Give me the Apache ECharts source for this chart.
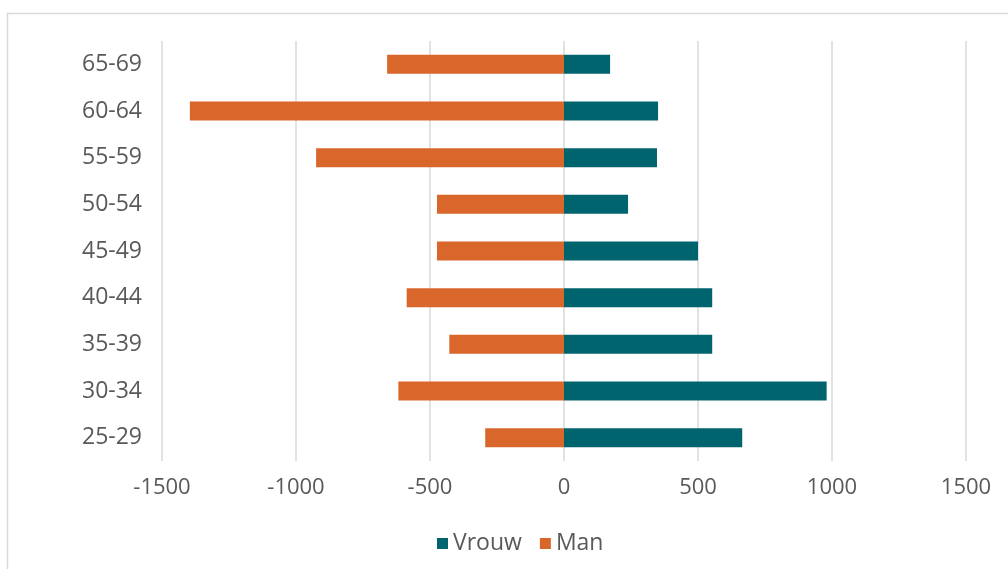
<!DOCTYPE html>
<html>
<head>
<meta charset="utf-8">
<script src="https://cdn.jsdelivr.net/npm/echarts@6/dist/echarts.min.js"></script>
<style>html,body{margin:0;padding:0;background:#fff;}#c{width:1008px;height:569px;}</style>
</head>
<body>
<div id="c"></div>
<script>
const categories = ['25-29','30-34','35-39','40-44','45-49','50-54','55-59','60-64','65-69'];
const vrouw = [665, 980, 553, 553, 500, 239, 347, 351, 172];
const man = [-294, -618, -428, -587, -474, -474, -925, -1396, -660];
const xTicks = { min: -1500, max: 1500, interval: 500 };

const chart = echarts.init(document.getElementById('c'));
const font = '"Open Sans", "Noto Sans", sans-serif';
chart.setOption({
  animation: false,
  backgroundColor: '#fff',
  graphic: [{
    type: 'rect', left: 5, top: 11, shape: { width: 1100, height: 620 },
    style: { fill: 'none', stroke: '#d9d9d9', lineWidth: 1.5 }, silent: true
  }],
  legend: {
    data: ['Vrouw', 'Man'],
    left: 432, top: 527,
    itemWidth: 11, itemHeight: 11, itemGap: 18,
    icon: 'rect',
    textStyle: { fontFamily: font, fontSize: 23, color: '#595959' }
  },
  grid: { left: 162, right: 42, top: 41, bottom: 108, containLabel: false },
  xAxis: {
    type: 'value', min: xTicks.min, max: xTicks.max, interval: xTicks.interval,
    axisLine: { show: false }, axisTick: { show: false },
    splitLine: { show: true, lineStyle: { color: '#d9d9d9', width: 1.5 } },
    axisLabel: { fontFamily: font, fontSize: 22, color: '#595959', margin: 16,
      formatter: v => String(v) }
  },
  yAxis: {
    type: 'category', data: categories,
    axisLine: { show: false }, axisTick: { show: false },
    axisLabel: { fontFamily: font, fontSize: 23, color: '#595959', margin: 20 }
  },
  series: [
    { name: 'Vrouw', type: 'bar', data: vrouw, barWidth: 19, barGap: '-100%',
      itemStyle: { color: '#00646E' } },
    { name: 'Man', type: 'bar', data: man, barWidth: 19,
      itemStyle: { color: '#D9672B' } }
  ]
});
</script>
</body>
</html>
